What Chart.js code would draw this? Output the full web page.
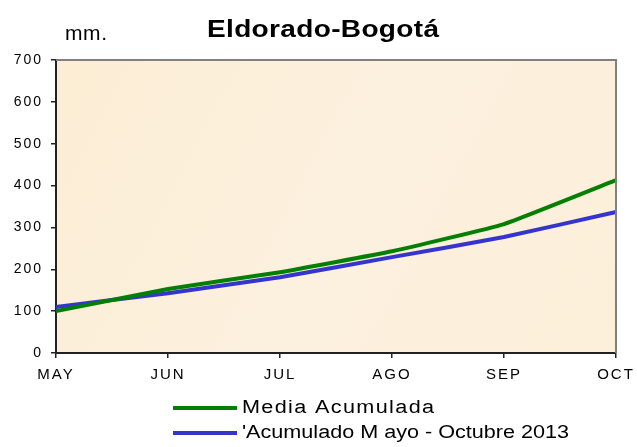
<!DOCTYPE html>
<html>
<head>
<meta charset="utf-8">
<script src="https://cdn.jsdelivr.net/npm/chart.js@4"></script>
<style>
  html, body { margin: 0; padding: 0; background: #fff; }
  #wrap { width: 637px; height: 447px; position: relative; }
</style>
</head>
<body>
<div id="wrap"><canvas id="chart" width="637" height="447"></canvas></div>
<script>
// Chart data
const months = ['MAY', 'JUN', 'JUL', 'AGO', 'SEP', 'OCT'];
const mediaAcumulada = [100, 153, 193, 243, 308, 413];
const acumulado2013 = [110, 143, 181, 229, 277, 337];
const seriesLabels = ['Media Acumulada', "'Acumulado M ayo - Octubre 2013"];

const FONT = '"Liberation Sans", Arial, sans-serif';

// Draws text stretched out to a given width (the original has wide lettering)
// stretch = horizontal glyph scale, the rest is made up with letter spacing
function fitText(ctx, text, x, y, width, stretch) {
  ctx.save();
  ctx.letterSpacing = '0px';
  const w = ctx.measureText(text).width * stretch;
  const extra = (width - w) / Math.max(1, text.length - 1) / stretch;
  ctx.letterSpacing = Math.max(0, extra).toFixed(2) + 'px';
  ctx.translate(x, y);
  ctx.scale(stretch, 1);
  ctx.fillText(text, 0, 0);
  ctx.restore();
}

// Paints the parchment background, frame and texts
const decorPlugin = {
  id: 'decor',
  beforeDraw(chart) {
    const { ctx, chartArea: a } = chart;
    ctx.save();
    const g = ctx.createLinearGradient(a.left, a.top, a.right, a.bottom);
    g.addColorStop(0, '#FCEDD4');
    g.addColorStop(0.5, '#FCF1DF');
    g.addColorStop(1, '#FCEFDA');
    ctx.fillStyle = g;
    ctx.fillRect(a.left, a.top, a.right - a.left, a.bottom - a.top);
    ctx.restore();
    // wider letter spacing for the tick labels, like the original
    ctx.letterSpacing = '2px';
  },
  afterDraw(chart) {
    const { ctx, chartArea: a } = chart;
    ctx.save();
    ctx.letterSpacing = '0px';
    // top and right frame in gray
    ctx.strokeStyle = '#808080';
    ctx.lineWidth = 2;
    ctx.beginPath();
    ctx.moveTo(a.left, a.top);
    ctx.lineTo(a.right, a.top);
    ctx.lineTo(a.right, a.bottom);
    ctx.stroke();

    // title and unit
    ctx.fillStyle = '#000';
    ctx.textBaseline = 'alphabetic';
    ctx.textAlign = 'left';
    ctx.font = 'bold 23px ' + FONT;
    fitText(ctx, 'Eldorado-Bogotá', 207, 37, 232, 1.22);
    ctx.font = '21px ' + FONT;
    fitText(ctx, 'mm.', 65, 40, 42, 1);

    // legend
    const rows = [408, 433];
    const widths = [192, 327];
    ctx.textBaseline = 'middle';
    ctx.font = '18px ' + FONT;
    chart.data.datasets.forEach((ds, i) => {
      ctx.strokeStyle = ds.borderColor;
      ctx.lineWidth = 4;
      ctx.beginPath();
      ctx.moveTo(173, rows[i]);
      ctx.lineTo(237, rows[i]);
      ctx.stroke();
      ctx.fillStyle = '#000';
      fitText(ctx, ds.label, 242, rows[i], widths[i], 1.2);
    });
    ctx.restore();
    ctx.letterSpacing = '0px';
  }
};

new Chart(document.getElementById('chart'), {
  type: 'line',
  data: {
    labels: months,
    datasets: [
      {
        label: seriesLabels[0],
        data: mediaAcumulada,
        borderColor: '#038003',
        borderWidth: 4,
        pointRadius: 0,
        tension: 0.12
      },
      {
        label: seriesLabels[1],
        data: acumulado2013,
        borderColor: '#3535CE',
        borderWidth: 4,
        pointRadius: 0,
        tension: 0.12
      }
    ]
  },
  options: {
    responsive: false,
    animation: false,
    layout: { padding: { top: 60, right: 0, left: 0, bottom: 0 } },
    plugins: {
      legend: { display: false },
      title: { display: false },
      tooltip: { enabled: false }
    },
    scales: {
      x: {
        offset: false,
        afterFit(scale) {
          scale.height = 94;
          scale.paddingRight = 21;
        },
        grid: { drawOnChartArea: false, drawTicks: true, tickLength: 5, color: '#222', lineWidth: 1.5 },
        border: { color: '#222', width: 2 },
        ticks: { color: '#000', font: { family: FONT, size: 15 }, padding: 8, maxRotation: 0 }
      },
      y: {
        min: 0,
        max: 700,
        afterFit(scale) { scale.width = 56; },
        grid: { drawOnChartArea: false, drawTicks: true, tickLength: 5, color: '#222', lineWidth: 1.5 },
        border: { color: '#222', width: 2 },
        ticks: { stepSize: 100, color: '#000', font: { family: FONT, size: 14 }, padding: 8 }
      }
    }
  },
  plugins: [decorPlugin]
});
</script>
</body>
</html>
